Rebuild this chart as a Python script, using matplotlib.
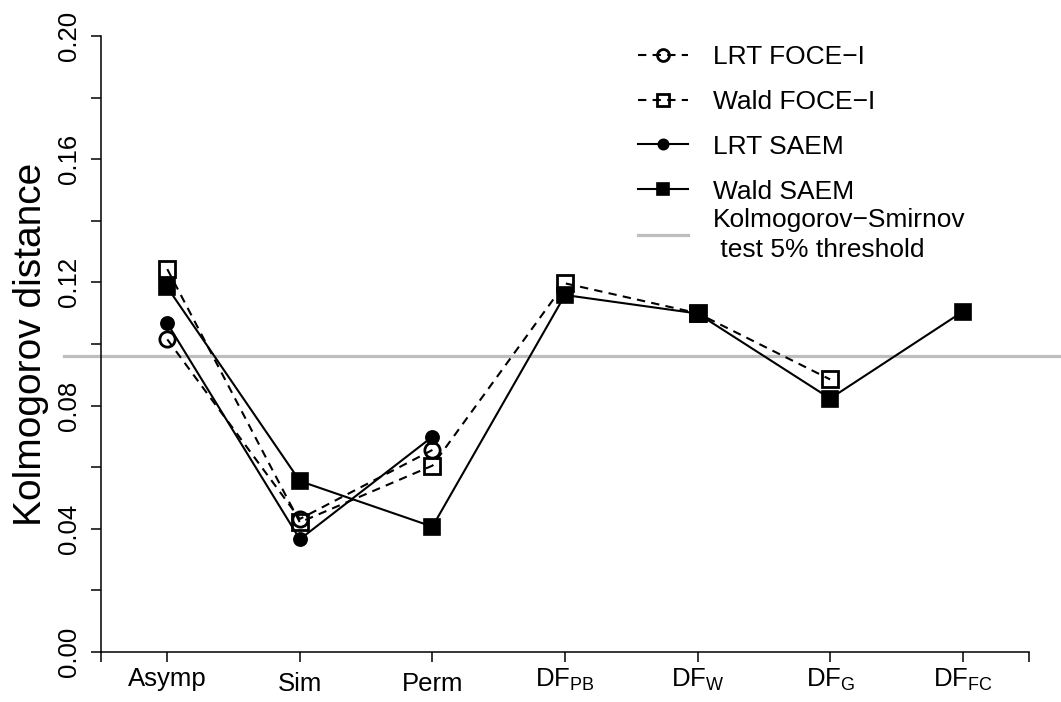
import matplotlib
matplotlib.use("Agg")
import matplotlib.pyplot as plt
from matplotlib.ticker import FixedLocator
from matplotlib.transforms import ScaledTranslation

plt.rcParams["font.family"] = ["Liberation Sans", "DejaVu Sans"]
plt.rcParams["mathtext.fontset"] = "custom"
plt.rcParams["mathtext.rm"] = "Liberation Sans"
plt.rcParams["mathtext.it"] = "Liberation Sans:italic"

# methods on the x axis (1..7)
methods = ["Asymp", "Sim", "Perm",
           r"DF$_\mathregular{PB}$", r"DF$_\mathregular{W}$",
           r"DF$_\mathregular{G}$", r"DF$_\mathregular{FC}$"]

# Kolmogorov distances
lrt_foce = [0.1015, 0.0432, 0.0656]
wald_foce = [0.1243, 0.0421, 0.0605, 0.1197, 0.1100, 0.0885]
lrt_saem = [0.1067, 0.0366, 0.0699]
wald_saem = [0.1184, 0.0555, 0.0407, 0.1159, 0.1099, 0.0823, 0.1105]
ks_threshold = 0.0961

dashed = (0, (4, 3))
series = [
    ("LRT FOCE\u2212I", lrt_foce, "o", "none", dashed),
    ("Wald FOCE\u2212I", wald_foce, "s", "none", dashed),
    ("LRT SAEM", lrt_saem, "o", "black", "-"),
    ("Wald SAEM", wald_saem, "s", "black", "-"),
]

W, H = 1061, 702
fig = plt.figure(figsize=(W / 100, H / 100), dpi=100)
ax = fig.add_axes([101 / W, 50 / H, 928 / W, 616 / H])

ks_line = ax.axhline(ks_threshold, xmin=-0.04, xmax=1.04, color="#BEBEBE",
                     lw=2.3, clip_on=False, zorder=1)

handles = []
for label, vals, marker, face, ls in series:
    pos = list(range(1, len(vals) + 1))
    if face == "none":
        ms, mew = 11, 2.0
    elif marker == "s":
        ms, mew = 11, 1.2
    else:
        ms, mew = 9.5, 1.2
    h, = ax.plot(pos, vals, color="black", lw=1.5, ls=ls, marker=marker,
                 ms=ms, mfc=face, mec="black", mew=mew, zorder=3,
                 label=label)
    handles.append(h)

ax.set_xlim(0.5, 7.5)
ax.set_ylim(0, 0.2)
for side in ["top", "right"]:
    ax.spines[side].set_visible(False)
for side in ["left", "bottom"]:
    ax.spines[side].set_linewidth(1.1)

ax.set_xticks(range(1, 8))
ax.set_xticklabels(methods, fontsize=18.5)
ax.xaxis.set_minor_locator(FixedLocator([0.5, 7.5]))
ax.set_yticks([0, 0.04, 0.08, 0.12, 0.16, 0.20])
ax.set_yticklabels(["0.00", "0.04", "0.08", "0.12", "0.16", "0.20"],
                   fontsize=18.5, rotation=90, va="center")
ax.yaxis.set_minor_locator(FixedLocator([0.02, 0.06, 0.10, 0.14, 0.18]))
ax.tick_params(which="both", direction="out", length=7.5, width=1.1)
ax.tick_params(axis="x", pad=3)
ax.tick_params(axis="y", pad=7)
ax.set_ylabel("Kolmogorov distance", fontsize=28, labelpad=5.5)

# R centres the axis labels on their ink, so plain labels sit a bit lower
for lab in ax.get_xticklabels():
    if lab.get_text() in ("Sim", "Perm"):
        lab.set_transform(lab.get_transform()
                          + ScaledTranslation(0, -0.05, fig.dpi_scale_trans))

leg1 = ax.legend(handles=handles, loc="upper left",
                 bbox_to_anchor=(638 / W, 1 - 45 / H),
                 bbox_transform=fig.transFigure, frameon=False, fontsize=19,
                 handlelength=1.9, handletextpad=0.95, labelspacing=0.79,
                 borderpad=0, borderaxespad=0, markerscale=0.78)
ax.add_artist(leg1)
leg2 = ax.legend(handles=[ks_line],
                 labels=["Kolmogorov\u2212Smirnov\n test 5% threshold"],
                 loc="center left", bbox_to_anchor=(638 / W, 1 - 235 / H),
                 bbox_transform=fig.transFigure, frameon=False, fontsize=19,
                 handlelength=1.9, handletextpad=0.95, borderpad=0,
                 borderaxespad=0)
for t in leg2.get_texts():
    t.set_linespacing(1.27)

fig.savefig("out.png", dpi=100)
